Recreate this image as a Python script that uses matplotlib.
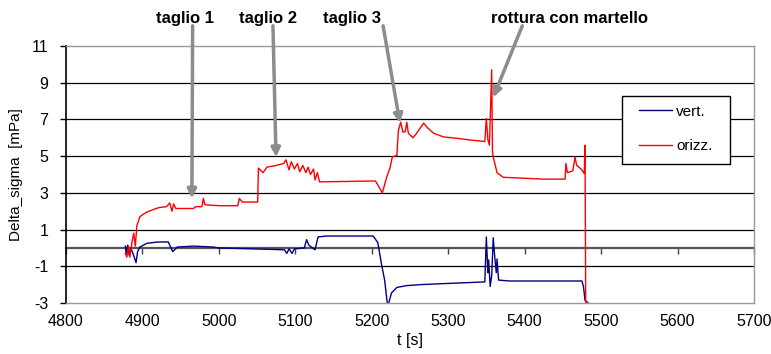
import numpy as np
import matplotlib
matplotlib.use('Agg')
from matplotlib import pyplot as plt
from matplotlib.patches import Rectangle

plt.rcParams['font.family'] = ['Liberation Sans', 'DejaVu Sans']
plt.rcParams['axes.unicode_minus'] = False

# orizz. (red) series
t_orizz = [4878, 4880, 4882, 4884, 4887, 4889, 4891, 4893, 4897, 4902,
           4906, 4915, 4922, 4932, 4936, 4939, 4941, 4944, 4967, 4970,
           4978, 4980, 4982, 5002, 5025, 5027, 5031, 5051, 5052, 5058,
           5063, 5076, 5085, 5088, 5092, 5095, 5099, 5103, 5106, 5110,
           5114, 5117, 5120, 5124, 5126, 5129, 5132, 5205, 5210, 5214,
           5220, 5224, 5227, 5233, 5235, 5238, 5241, 5244, 5246, 5248,
           5254, 5258, 5268, 5273, 5281, 5294, 5312, 5329, 5348, 5350,
           5352, 5354, 5357, 5358, 5359, 5364, 5372, 5398, 5424, 5453,
           5454, 5456, 5463, 5466, 5468, 5474, 5478, 5479, 5480]
v_orizz = [-0.3, -0.5, 0.1, -0.5, 0.4, 0.8, 0.1, 1.2, 1.7, 1.85,
           1.95, 2.1, 2.2, 2.25, 2.45, 2.0, 2.4, 2.15, 2.15, 2.25,
           2.25, 2.7, 2.35, 2.3, 2.3, 2.7, 2.5, 2.5, 4.35, 4.1,
           4.4, 4.5, 4.6, 4.8, 4.25, 4.7, 4.3, 4.6, 4.15, 4.5,
           4.1, 4.4, 4.0, 4.3, 3.7, 4.1, 3.6, 3.65, 3.3, 3.0,
           3.9, 4.35, 4.95, 5.05, 6.4, 6.85, 6.3, 6.35, 6.85, 6.25,
           6.0, 6.2, 6.8, 6.55, 6.25, 6.05, 5.97, 5.88, 5.8, 7.05,
           5.9, 5.6, 9.7, 5.3, 4.95, 4.1, 3.85, 3.8, 3.75, 3.75,
           4.6, 4.1, 4.2, 4.95, 4.5, 4.3, 4.05, 5.6, -3.6]

# vert. (blue) series
t_vert = [4878, 4879, 4881, 4883, 4885, 4888, 4892, 4894, 4897, 4906,
          4919, 4934, 4940, 4946, 4967, 4993, 5000, 5045, 5086, 5089,
          5092, 5096, 5099, 5112, 5115, 5118, 5126, 5130, 5141, 5202,
          5208, 5213, 5217, 5221, 5226, 5233, 5246, 5263, 5290, 5348,
          5350, 5352, 5353, 5355, 5357, 5359, 5361, 5363, 5364, 5366,
          5380, 5475, 5477, 5479, 5483]
v_vert = [0.1, -0.3, 0.15, -0.4, 0.0, -0.3, -0.8, -0.2, 0.05, 0.25,
          0.32, 0.33, -0.2, 0.05, 0.1, 0.05, 0.0, -0.05, -0.1, -0.3,
          -0.05, -0.3, -0.05, 0.0, 0.45, 0.15, -0.1, 0.6, 0.65, 0.65,
          0.3, -0.9, -1.75, -3.2, -2.45, -2.15, -2.05, -2.0, -1.95, -1.85,
          0.6, -1.35, -0.65, -2.1, -1.5, 0.55, -0.5, -1.35, -0.6, -1.75,
          -1.8, -1.8, -2.1, -2.85, -3.0]

x_ticks = [4800, 4900, 5000, 5100, 5200, 5300, 5400, 5500, 5600, 5700]
y_ticks = [-3, -1, 1, 3, 5, 7, 9, 11]

# annotations: label, text position, arrow tip, arrow tail
notes = ['taglio 1', 'taglio 2', 'taglio 3', 'rottura con martello']
note_text_t = [4956, 5064, 5174, 5459]
note_tip_t = [4965, 5075, 5237, 5359]
note_tip_v = [2.7, 4.95, 6.8, 8.2]
note_tail_t = [4966, 5071, 5215, 5397]

fig = plt.figure(figsize=(7.71, 3.54), dpi=100)
ax = fig.add_axes([0.0852, 0.144, 0.8928, 0.726])

ax.plot(t_vert, v_vert, color='#000080', lw=1.0, label='vert.')
ax.plot(t_orizz, v_orizz, color='#ff0000', lw=1.0, label='orizz.')

ax.set_xlim(4800, 5700)
ax.set_ylim(-3, 11)
ax.set_xticks(x_ticks)
ax.set_yticks(y_ticks)
ax.tick_params(axis='x', length=0, labelsize=11.5, pad=8)
ax.tick_params(axis='y', length=4.5, width=1, labelsize=11.5, pad=8)
for y in y_ticks[1:-1]:
    ax.axhline(y, color='black', lw=0.9, zorder=0.5)

ax.spines['left'].set_color('black')
ax.spines['left'].set_linewidth(1.2)
for s in ['top', 'right', 'bottom']:
    ax.spines[s].set_color('#999999')
    ax.spines[s].set_linewidth(1.0)

# horizontal axis line crossing at zero, with ticks
sec = ax.secondary_xaxis(3 / 14)
sec.set_xticks(x_ticks)
sec.tick_params(length=4, width=1, color='#444444', labelbottom=False,
                direction='out')
sec.spines['bottom'].set_color('#555555')
sec.spines['bottom'].set_linewidth(1.6)

ax.set_xlabel('t [s]', fontsize=11.5, labelpad=3)
ax.set_ylabel('Delta_sigma  [mPa]', fontsize=11, labelpad=6)

for lab, tx, tt, tv, ta in zip(notes, note_text_t, note_tip_t, note_tip_v, note_tail_t):
    ax.annotate('', xy=(tt, tv), xytext=(ta, 12.1), annotation_clip=False,
                arrowprops=dict(arrowstyle='-|>', color='#8c8c8c', lw=2.5,
                                mutation_scale=13, shrinkA=0, shrinkB=0))
    ax.text(tx, 12.5, lab, ha='center', va='center', fontsize=12,
            fontweight='bold', clip_on=False)

# legend box and entries
ax.add_patch(Rectangle((622 / 771, 1 - 164 / 354), 108 / 771, 68 / 354,
                       transform=fig.transFigure, clip_on=False,
                       facecolor='white', edgecolor='black', lw=1.0, zorder=4))
leg = ax.legend(loc='center left', bbox_to_anchor=(639 / 771, 1 - 129 / 354),
                bbox_transform=fig.transFigure, borderaxespad=0, borderpad=0,
                frameon=False, fontsize=11, handlelength=2.15,
                labelspacing=1.35, handletextpad=0.3)
leg.set_zorder(5)

fig.savefig('out.png', dpi=100)
